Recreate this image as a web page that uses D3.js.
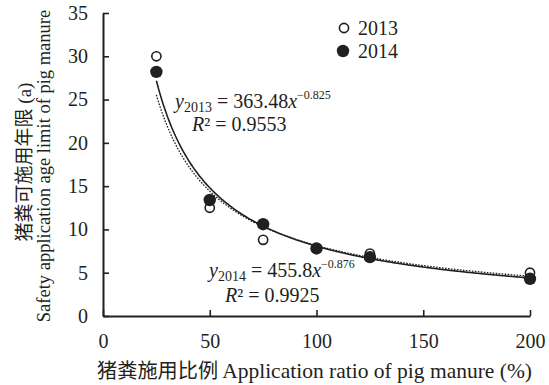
<!DOCTYPE html>
<html>
<head>
<meta charset="utf-8">
<script src="https://cdn.jsdelivr.net/npm/d3@7"></script>
<style>
  html, body { margin: 0; padding: 0; background: #fff; }
  svg { display: block; }
</style>
</head>
<body>
<svg id="chart" width="549" height="385"></svg>
<script>
// Application ratio of pig manure (%)
const ratios = [25, 50, 75, 100, 125, 200];
// Safety application age limit (a)
const years2013 = [30.0, 12.5, 8.8, 7.8, 7.2, 5.0];
const years2014 = [28.2, 13.4, 10.6, 7.8, 6.8, 4.3];
// Power-law fits y = a * x^b
const fit2013 = { a: 363.48, b: -0.825, r2: "0.9553" };
const fit2014 = { a: 455.8, b: -0.876, r2: "0.9925" };
const xTicks = [0, 50, 100, 150, 200];
const yTicks = [0, 5, 10, 15, 20, 25, 30, 35];

const ink = "#231f20";
const LATIN = "'Liberation Serif', 'Times New Roman', serif";
const CJK = "'Noto Sans CJK SC', sans-serif";

const svg = d3.select("#chart");
const x = d3.scaleLinear().domain([0, 200]).range([103, 530]);
const y = d3.scaleLinear().domain([0, 35]).range([316, 13]);

function txt(sel) {
  return sel.style("font-family", LATIN).attr("fill", ink);
}

// Axes with inward ticks
const gx = svg.append("g").attr("transform", `translate(0,${y(0)})`)
  .call(d3.axisBottom(x).tickValues(xTicks).tickSizeInner(-6).tickSizeOuter(0).tickPadding(18));
const gy = svg.append("g").attr("transform", `translate(${x(0)},0)`)
  .call(d3.axisLeft(y).tickValues(yTicks).tickSizeInner(-6).tickSizeOuter(0).tickPadding(15));
[gx, gy].forEach(g => {
  g.select(".domain").attr("stroke", ink).attr("stroke-width", 2);
  g.selectAll(".tick line").attr("stroke", ink).attr("stroke-width", 1.6);
  txt(g.selectAll(".tick text")).style("font-size", "20px");
});

// Fitted curves
const xs = d3.range(25, 200.01, 1);
const line = d3.line().x(d => x(d[0])).y(d => y(d[1])).curve(d3.curveBasis);
svg.append("path")
  .attr("d", line(xs.map(v => [v, fit2013.a * Math.pow(v, fit2013.b)])))
  .attr("fill", "none").attr("stroke", ink).attr("stroke-width", 1.3)
  .attr("stroke-dasharray", "1.6,1.4");
svg.append("path")
  .attr("d", line(xs.map(v => [v, fit2014.a * Math.pow(v, fit2014.b)])))
  .attr("fill", "none").attr("stroke", ink).attr("stroke-width", 1.6);

// Observed points
svg.append("g").selectAll("circle").data(ratios.map((r, i) => [r, years2013[i]])).join("circle")
  .attr("cx", d => x(d[0])).attr("cy", d => y(d[1])).attr("r", 4.6)
  .attr("fill", "#fff").attr("stroke", ink).attr("stroke-width", 1.6);
svg.append("g").selectAll("circle").data(ratios.map((r, i) => [r, years2014[i]])).join("circle")
  .attr("cx", d => x(d[0])).attr("cy", d => y(d[1])).attr("r", 6.2)
  .attr("fill", ink);

// Legend
svg.append("circle").attr("cx", 344).attr("cy", 28).attr("r", 4.6)
  .attr("fill", "#fff").attr("stroke", ink).attr("stroke-width", 1.6);
txt(svg.append("text")).attr("x", 358).attr("y", 35).style("font-size", "20px").text("2013");
svg.append("circle").attr("cx", 343).attr("cy", 51).attr("r", 6.2).attr("fill", ink);
txt(svg.append("text")).attr("x", 358).attr("y", 58).style("font-size", "20px").text("2014");

// Equation labels
function equation(px, py, year, fit) {
  const t = txt(svg.append("text")).attr("x", px).attr("y", py).style("font-size", "20px");
  t.append("tspan").attr("font-style", "italic").text("y");
  t.append("tspan").style("font-size", "14px").attr("dy", 4).text(year);
  t.append("tspan").attr("dy", -4).text(" = " + fit.a);
  t.append("tspan").attr("font-style", "italic").text("x");
  t.append("tspan").style("font-size", "12px").attr("dy", -9).text("\u2212" + Math.abs(fit.b));
}
function rsq(px, py, fit) {
  const t = txt(svg.append("text")).attr("x", px).attr("y", py).style("font-size", "20px");
  t.append("tspan").attr("font-style", "italic").text("R");
  t.append("tspan").text("\u00b2 = " + fit.r2);
}
equation(175, 108, "2013", fit2013);
rsq(192, 131, fit2013);
equation(209, 277, "2014", fit2014);
rsq(225, 302, fit2014);

// Axis titles
const xt = txt(svg.append("text")).attr("x", 97).attr("y", 378);
xt.append("tspan").style("font-family", CJK).style("font-size", "20.2px").text("猪粪施用比例");
xt.append("tspan").attr("dx", 4).style("font-size", "21.5px").text("Application ratio of pig manure (%)");

const yt1 = txt(svg.append("text")).attr("transform", "translate(31,162) rotate(-90)")
  .attr("text-anchor", "middle");
yt1.append("tspan").style("font-family", CJK).style("font-size", "19px").text("猪粪可施用年限");
yt1.append("tspan").style("font-size", "19px").text(" (a)");
txt(svg.append("text")).attr("transform", "translate(50,166) rotate(-90)").attr("text-anchor", "middle")
  .style("font-size", "18.5px").text("Safety application age limit of pig manure");
</script>
</body>
</html>
